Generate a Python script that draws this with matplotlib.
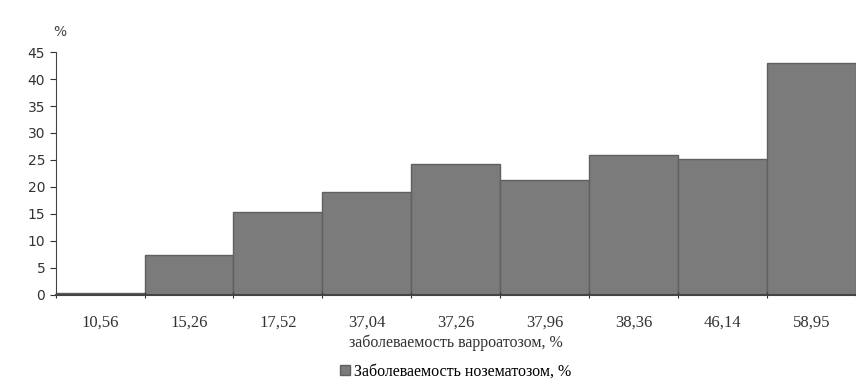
import numpy as np
import matplotlib.pyplot as plt

# заболеваемость варроатозом (категории) и нозематозом (значения)
categories = ['10,56', '15,26', '17,52', '37,04', '37,26', '37,96', '38,36', '46,14', '58,95']
nosema = [0.4, 7.3, 15.4, 19.0, 24.2, 21.3, 26.0, 25.2, 43.0]

fig = plt.figure(figsize=(8.56, 3.8), dpi=100)
ax = fig.add_axes([0.065, 0.224, 0.935, 0.639])

x = np.arange(len(categories))
ax.bar(x, nosema, width=1.0, color='#7b7b7b', edgecolor='#606060', linewidth=1.0,
       label='Заболеваемость нозематозом, %')

ax.set_xlim(-0.5, len(categories) - 0.61)
ax.set_ylim(0, 45)
ax.set_yticks(np.arange(0, 46, 5))
ax.tick_params(axis='y', labelsize=10, colors='#333333', length=4, direction='out')
for lbl in ax.get_yticklabels():
    lbl.set_family('DejaVu Sans')

# деления на границах столбцов, подписи по центру
ax.set_xticks(np.arange(len(categories) + 1) - 0.5)
ax.set_xticklabels([])
ax.tick_params(axis='x', which='major', length=5, direction='inout', colors='#333333')
ax.set_xticks(x, minor=True)
ax.set_xticklabels(categories, minor=True, family='Liberation Serif', fontsize=12, color='#333333')
ax.tick_params(axis='x', which='minor', length=0, pad=14)

for s in ['top', 'right']:
    ax.spines[s].set_visible(False)
ax.spines['left'].set_color('#444444')
ax.spines['bottom'].set_color('#444444')
ax.spines['bottom'].set_linewidth(1.5)

ax.set_xlabel('заболеваемость варроатозом, %', family='Liberation Serif', fontsize=11.5,
              color='#333333', labelpad=3)
fig.text(0.07, 0.905, '%', fontsize=10, color='#444444', ha='center')

ax.legend(loc='upper center', bbox_to_anchor=(0.5, -0.225), frameon=False, handlelength=0.6,
          handleheight=0.6, handletextpad=0.3, prop={'family': 'Liberation Serif', 'size': 11.5})

fig.savefig('out.png', dpi=100)
